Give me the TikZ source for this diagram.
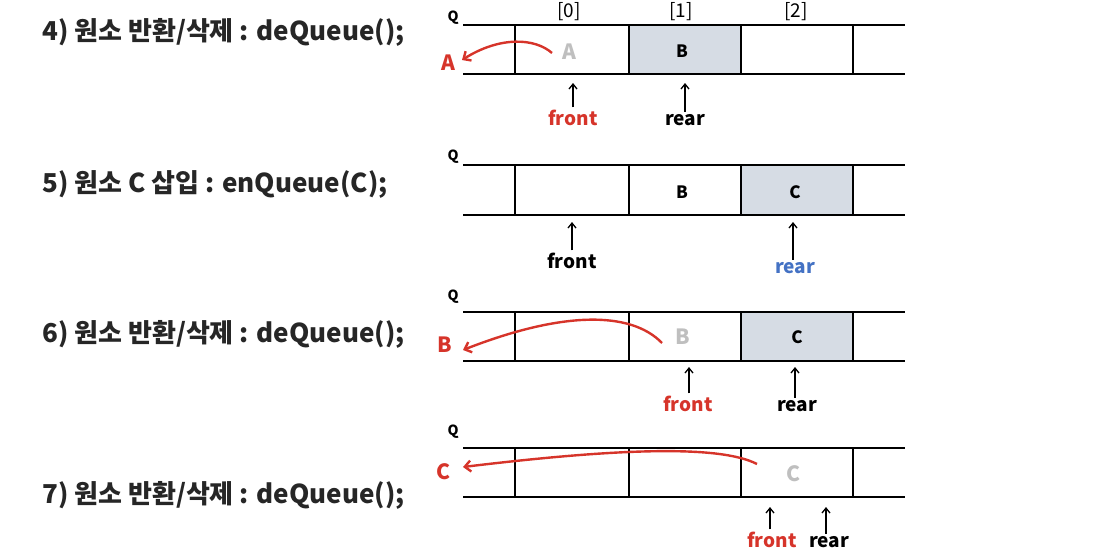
\documentclass[tikz,border=0pt]{standalone}
\usepackage{fontspec}
\setmainfont{Noto Sans CJK KR}
\usetikzlibrary{arrows.meta}
\definecolor{qred}{RGB}{214,52,42}
\definecolor{qblue}{RGB}{68,114,196}
\definecolor{qgray}{RGB}{191,191,191}
\definecolor{qfill}{RGB}{214,220,228}
\definecolor{qtext}{RGB}{38,38,38}
\begin{document}
\begin{tikzpicture}[x=1pt,y=-1pt,
 title/.style={anchor=base west, font=\fontsize{26}{30}\selectfont\bfseries, text=qtext, inner sep=0},
 qlab/.style={font=\fontsize{14}{16}\selectfont\bfseries, inner sep=0},
 idx/.style={font=\fontsize{19}{22}\selectfont, inner sep=0},
 val/.style={font=\fontsize{17}{19}\selectfont\bfseries, inner sep=0},
 ghost/.style={font=\fontsize{21}{24}\selectfont\bfseries, text=qgray, inner sep=0},
 outv/.style={font=\fontsize{21}{24}\selectfont\bfseries, text=qred, inner sep=0},
 ptrlab/.style={anchor=base, font=\fontsize{19}{22}\selectfont\bfseries, inner sep=0},
 qline/.style={line width=2.5pt},
 cellbg/.style={fill=qfill},
 ptr/.style={-{Straight Barb[length=5pt,width=8pt]}, line width=1.3pt, shorten <=2pt},
 take/.style={draw=qred, -{Straight Barb[length=6pt,width=11pt]}, line width=2.4pt},
]
\useasboundingbox (0,0) rectangle (1096,550);

% ---------- row 4) ----------
\node[title] (t4) at (42,40) {4) 원소 반환/삭제 : deQueue();};
\fill[cellbg] (629,25) rectangle (741,74);
\draw[qline] (463,25) -- (905,25) (463,74) -- (905,74);
\foreach \x in {515,629,741,853} \draw[qline] (\x,25) -- (\x,74);
\node[qlab] (q4) at (453,18) {Q};
\node[idx] (i0) at (569,12) {[0]};
\node[idx] (i1) at (681,12) {[1]};
\node[idx] (i2) at (796,12) {[2]};
\node[ghost] (a4) at (569,52) {A};
\node[val] (b4) at (682,51) {B};
\node[outv] (oa) at (448,63) {A};
\node[ptrlab, text=qred] (f4) at (573,125) {front};
\node[ptrlab] (r4) at (685,125) {rear};
\coordinate (f4p) at (573,83);
\coordinate (r4p) at (685,83);
\draw[ptr] (f4.north -| f4p) -- (f4p);
\draw[ptr] (r4.north -| r4p) -- (r4p);
\coordinate (s4) at (552,53);
\coordinate (e4) at (462,60);
\draw[take] (s4) .. controls (535,38) and (500,36) .. (e4);

% ---------- row 5) ----------
\node[title] (t5) at (42,192) {5) 원소 C 삽입 : enQueue(C);};
\fill[cellbg] (741,165) rectangle (853,215);
\draw[qline] (463,165) -- (905,165) (463,215) -- (905,215);
\foreach \x in {515,629,741,853} \draw[qline] (\x,165) -- (\x,215);
\node[qlab] (q5) at (453,157) {Q};
\node[val] (b5) at (682,192) {B};
\node[val] (c5) at (795,192) {C};
\node[ptrlab] (f5) at (572,268) {front};
\node[ptrlab, text=qblue] (r5) at (795,273) {rear};
\coordinate (f5p) at (572,222);
\coordinate (r5p) at (793,222);
\draw[ptr] (f5.north -| f5p) -- (f5p);
\draw[ptr] (r5.north -| r5p) -- (r5p);

% ---------- row 6) ----------
\node[title] (t6) at (42,342) {6) 원소 반환/삭제 : deQueue();};
\fill[cellbg] (741,312) rectangle (853,361);
\draw[qline] (463,312) -- (905,312) (463,361) -- (905,361);
\foreach \x in {515,629,741,853} \draw[qline] (\x,312) -- (\x,361);
\node[qlab] (q6) at (453,297) {Q};
\node[ghost] (b6) at (683,337) {B};
\node[val] (c6) at (797,337) {C};
\node[outv] (ob) at (445,345) {B};
\node[ptrlab, text=qred] (f6) at (688,411) {front};
\node[ptrlab] (r6) at (797,411) {rear};
\coordinate (f6p) at (689,367);
\coordinate (r6p) at (795,367);
\draw[ptr] (f6.north -| f6p) -- (f6p);
\draw[ptr] (r6.north -| r6p) -- (r6p);
\coordinate (s6) at (662,343);
\coordinate (e6) at (463,350);
\draw[take] (s6) .. controls (630,310) and (560,312) .. (e6);

% ---------- row 7) ----------
\node[title] (t7) at (42,503) {7) 원소 반환/삭제 : deQueue();};
\draw[qline] (463,448) -- (905,448) (463,497) -- (905,497);
\foreach \x in {515,629,741,853} \draw[qline] (\x,448) -- (\x,497);
\node[qlab] (q7) at (453,432) {Q};
\node[ghost] (c7) at (793,474) {C};
\node[outv] (oc) at (443,472) {C};
\node[ptrlab, text=qred] (f7) at (772,547) {front};
\node[ptrlab] (r7) at (829,547) {rear};
\coordinate (f7p) at (770,507);
\coordinate (r7p) at (826,507);
\draw[ptr] (f7.north -| f7p) -- (f7p);
\draw[ptr] (r7.north -| r7p) -- (r7p);
\coordinate (s7) at (757,464);
\coordinate (e7) at (463,467);
\draw[take] (s7) .. controls (720,445) and (620,448) .. (e7);
\end{tikzpicture}
\end{document}
